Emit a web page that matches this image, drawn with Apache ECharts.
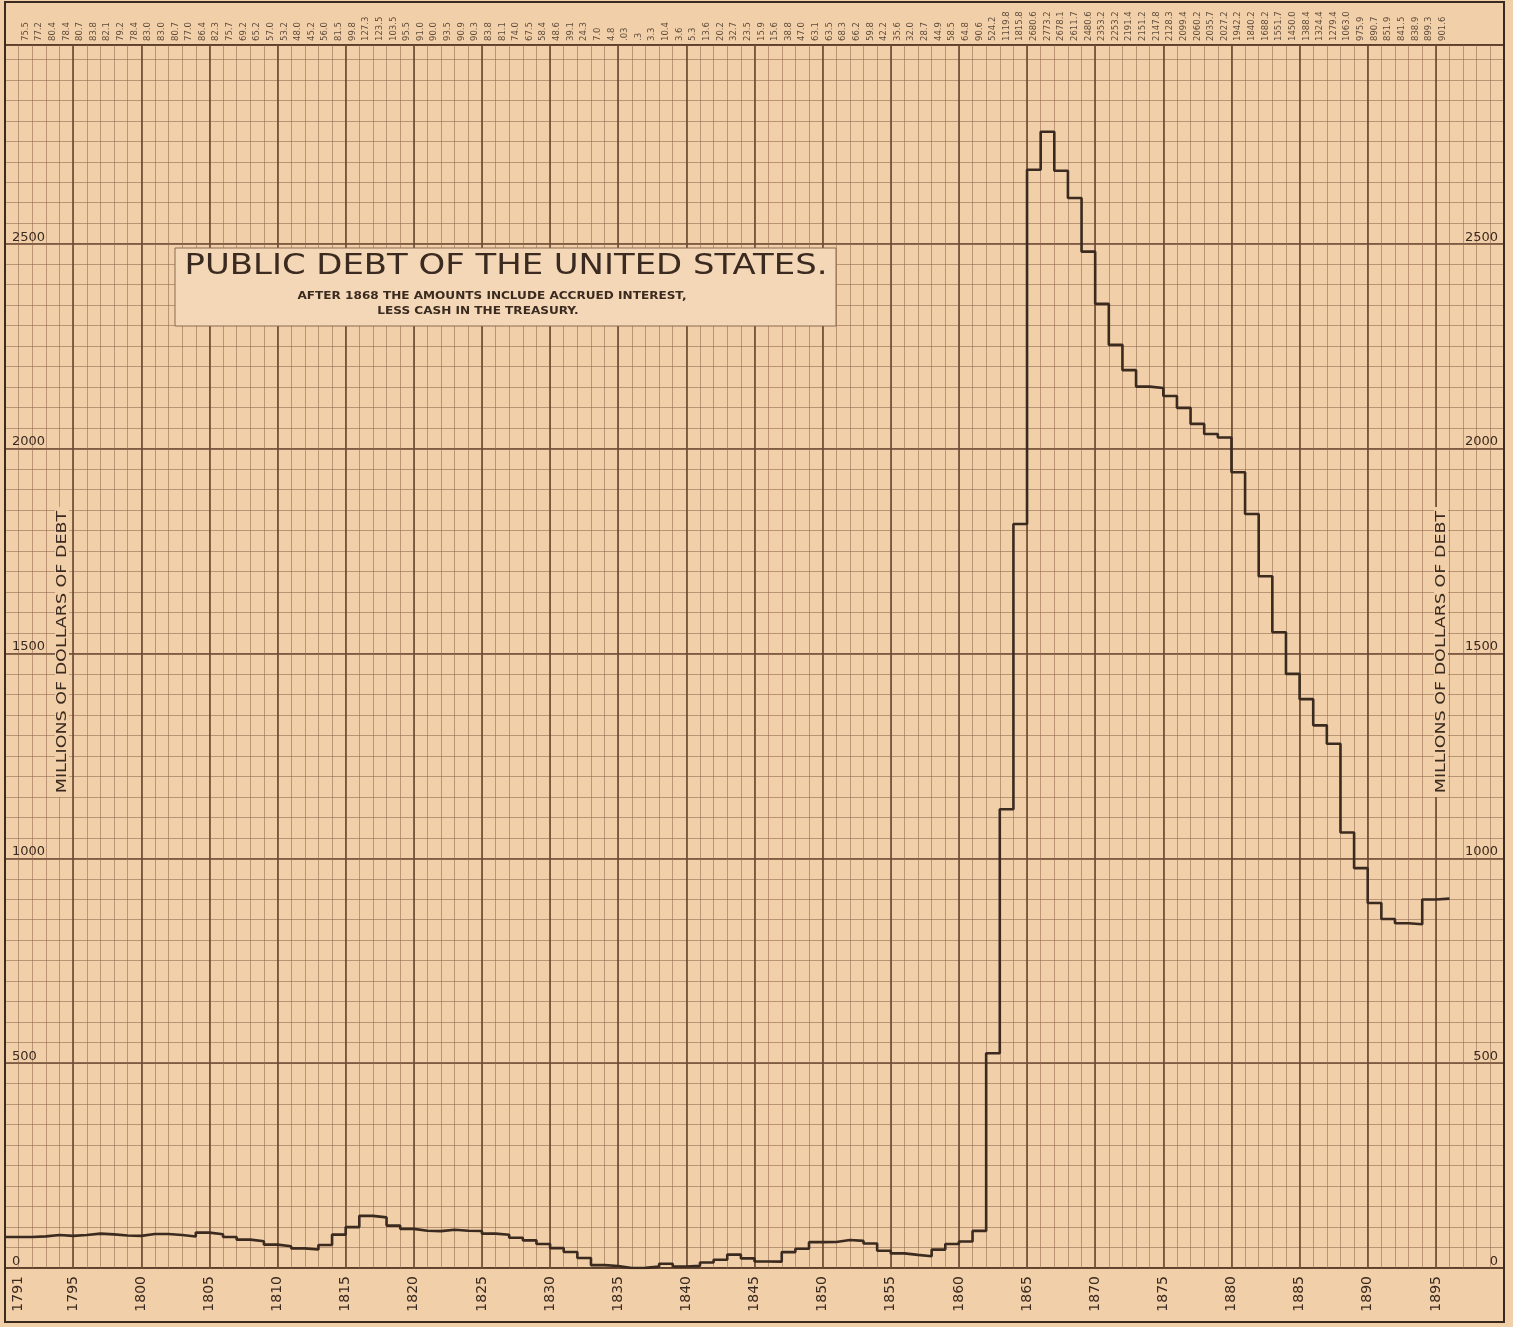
<!DOCTYPE html>
<html>
<head>
<meta charset="utf-8">
<title>Public Debt of the United States</title>
<script src="https://cdn.jsdelivr.net/npm/echarts@6/dist/echarts.min.js"></script>
<style>
  html, body { margin: 0; padding: 0; background: #f1cfa8; }
  #chart { width: 1513px; height: 1327px; }
</style>
</head>
<body>
<div id="chart"></div>
<script>
// Fiscal years shown on the chart
const years = [
  1791, 1792, 1793, 1794, 1795, 1796, 1797, 1798, 1799, 1800,
  1801, 1802, 1803, 1804, 1805, 1806, 1807, 1808, 1809, 1810,
  1811, 1812, 1813, 1814, 1815, 1816, 1817, 1818, 1819, 1820,
  1821, 1822, 1823, 1824, 1825, 1826, 1827, 1828, 1829, 1830,
  1831, 1832, 1833, 1834, 1835, 1836, 1837, 1838, 1839, 1840,
  1841, 1842, 1843, 1844, 1845, 1846, 1847, 1848, 1849, 1850,
  1851, 1852, 1853, 1854, 1855, 1856, 1857, 1858, 1859, 1860,
  1861, 1862, 1863, 1864, 1865, 1866, 1867, 1868, 1869, 1870,
  1871, 1872, 1873, 1874, 1875, 1876, 1877, 1878, 1879, 1880,
  1881, 1882, 1883, 1884, 1885, 1886, 1887, 1888, 1889, 1890,
  1891, 1892, 1893, 1894, 1895
];

// Public debt, millions of dollars (after 1868: with accrued interest, less cash in the Treasury)
const debt = [
  75.5, 77.2, 80.4, 78.4, 80.7, 83.8, 82.1, 79.2, 78.4, 83.0,
  83.0, 80.7, 77.0, 86.4, 82.3, 75.7, 69.2, 65.2, 57.0, 53.2,
  48.0, 45.2, 56.0, 81.5, 99.8, 127.3, 123.5, 103.5, 95.5, 91.0,
  90.0, 93.5, 90.9, 90.3, 83.8, 81.1, 74.0, 67.5, 58.4, 48.6,
  39.1, 24.3, 7.0, 4.8, 0.03, 0.3, 3.3, 10.4, 3.6, 5.3,
  13.6, 20.2, 32.7, 23.5, 15.9, 15.6, 38.8, 47.0, 63.1, 63.5,
  68.3, 66.2, 59.8, 42.2, 35.6, 32.0, 28.7, 44.9, 58.5, 64.8,
  90.6, 524.2, 1119.8, 1815.8, 2680.6, 2773.2, 2678.1, 2611.7, 2480.6, 2353.2,
  2253.2, 2191.4, 2151.2, 2147.8, 2128.3, 2099.4, 2060.2, 2035.7, 2027.2, 1942.2,
  1840.2, 1688.2, 1551.7, 1450.0, 1388.4, 1324.4, 1279.4, 1063.0, 975.9, 890.7,
  851.9, 841.5, 838.9, 899.3, 901.6
];

// Years printed along the bottom edge
const yearTicks = [
  1791, 1795, 1800, 1805, 1810, 1815, 1820, 1825, 1830, 1835, 1840,
  1845, 1850, 1855, 1860, 1865, 1870, 1875, 1880, 1885, 1890, 1895
];

// Scale labels on both sides
const scaleTicks = [0, 500, 1000, 1500, 2000, 2500];

const X_MIN = 1790, X_MAX = 1900, Y_MAX = 2985;

const PAPER = '#f1cfa8';
const INK = '#3a2a1f';
const MINOR = 'rgba(140,100,72,0.55)';
const MAJOR = '#6a4832';
const FONT = '"DejaVu Sans", "Liberation Sans", sans-serif';

// Step line: each year's amount runs across its own column
const stepData = [[X_MIN, debt[0]]]
  .concat(years.map((y, i) => [y, debt[i]]))
  .concat([[years[years.length - 1] + 1, debt[debt.length - 1]]]);

// Amounts printed in the strip above the grid, one per column
const tagData = years.map((y, i) => [y + 0.5, Y_MAX, debt[i]]);
const fmtAmount = v => (v < 1 ? String(v).replace(/^0/, '') : v.toFixed(1));

const chart = echarts.init(document.getElementById('chart'), null, { renderer: 'canvas' });

chart.setOption({
  backgroundColor: PAPER,
  animation: false,
  grid: {
    left: 5, top: 45, width: 1499, height: 1223,
    show: true, borderColor: INK, borderWidth: 2, backgroundColor: 'transparent'
  },
  xAxis: [
    {
      // yearly rulings and year labels
      type: 'value', min: X_MIN, max: X_MAX, interval: 1, position: 'bottom',
      axisLine: { show: false }, axisTick: { show: false },
      splitLine: { show: true, lineStyle: { color: MINOR, width: 1 } },
      axisLabel: {
        show: true, rotate: 90, margin: 8,
        fontFamily: FONT, fontSize: 14, color: INK,
        formatter: v => (yearTicks.indexOf(v) >= 0 ? String(v) : '')
      }
    },
    {
      // five-year rulings
      type: 'value', min: X_MIN, max: X_MAX, interval: 5, position: 'top',
      axisLine: { show: false }, axisTick: { show: false }, axisLabel: { show: false },
      splitLine: { show: true, lineStyle: { color: MAJOR, width: 1.6 } }
    }
  ],
  yAxis: [
    {
      // rulings every 50 millions
      type: 'value', min: 0, max: Y_MAX, interval: 50, position: 'left',
      axisLine: { show: false }, axisTick: { show: false }, axisLabel: { show: false },
      splitLine: { show: true, lineStyle: { color: MINOR, width: 1 } }
    },
    {
      // rulings every 500 millions, left labels
      type: 'value', min: 0, max: Y_MAX, interval: 500, position: 'left',
      axisLine: { show: false }, axisTick: { show: false },
      splitLine: { show: true, lineStyle: { color: MAJOR, width: 1.6 } },
      axisLabel: {
        inside: true, margin: 7, align: 'left', verticalAlign: 'bottom',
        showMaxLabel: false, fontFamily: FONT, fontSize: 13, color: INK,
        formatter: v => (scaleTicks.indexOf(v) >= 0 ? String(v) : '')
      }
    },
    {
      // right-hand labels
      type: 'value', min: 0, max: Y_MAX, interval: 500, position: 'right',
      axisLine: { show: false }, axisTick: { show: false }, splitLine: { show: false },
      axisLabel: {
        inside: true, margin: 6, align: 'right', verticalAlign: 'bottom',
        showMaxLabel: false, fontFamily: FONT, fontSize: 13, color: INK,
        formatter: v => (scaleTicks.indexOf(v) >= 0 ? String(v) : '')
      }
    }
  ],
  series: [
    {
      name: 'Public debt',
      type: 'line',
      step: 'end',
      xAxisIndex: 0, yAxisIndex: 1,
      data: stepData,
      symbol: 'none',
      lineStyle: { color: INK, width: 2.6 },
      z: 5
    },
    {
      name: 'Amounts',
      type: 'scatter',
      xAxisIndex: 0, yAxisIndex: 1,
      data: tagData,
      symbolSize: 0,
      silent: true,
      label: {
        show: true, position: 'top', distance: 4, rotate: 90,
        align: 'left', verticalAlign: 'middle',
        fontFamily: FONT, fontSize: 8.5, color: INK,
        formatter: p => fmtAmount(p.value[2])
      }
    }
  ],
  graphic: [
    {
      type: 'rect', z: 20,
      shape: { x: 5, y: 2, width: 1499, height: 1320 },
      style: { fill: 'none', stroke: INK, lineWidth: 2 }
    },
    {
      type: 'rect', z: 20,
      shape: { x: 175, y: 248, width: 661, height: 78 },
      style: { fill: '#f4d7b6', stroke: '#8c6a50', lineWidth: 1 }
    },
    {
      type: 'text', z: 21, x: 506, y: 267, scaleX: 1.21,
      style: {
        text: 'PUBLIC DEBT OF THE UNITED STATES.',
        font: '28px "DejaVu Sans", sans-serif', fill: INK,
        textAlign: 'center', textVerticalAlign: 'middle'
      }
    },
    {
      type: 'text', z: 21, x: 492, y: 296, scaleX: 1.15,
      style: {
        text: 'AFTER 1868 THE AMOUNTS INCLUDE ACCRUED INTEREST,',
        font: 'bold 10.5px "DejaVu Sans", sans-serif', fill: INK,
        textAlign: 'center', textVerticalAlign: 'middle'
      }
    },
    {
      type: 'text', z: 21, x: 478, y: 311, scaleX: 1.15,
      style: {
        text: 'LESS CASH IN THE TREASURY.',
        font: 'bold 10.5px "DejaVu Sans", sans-serif', fill: INK,
        textAlign: 'center', textVerticalAlign: 'middle'
      }
    },
    {
      type: 'text', z: 21, x: 62, y: 652, rotation: Math.PI / 2, scaleX: 1.25,
      style: {
        text: 'MILLIONS OF DOLLARS OF DEBT',
        font: '14px "DejaVu Sans", sans-serif', fill: INK,
        textAlign: 'center', textVerticalAlign: 'middle',
        backgroundColor: PAPER, padding: [0, 3]
      }
    },
    {
      type: 'text', z: 21, x: 1441, y: 652, rotation: Math.PI / 2, scaleX: 1.25,
      style: {
        text: 'MILLIONS OF DOLLARS OF DEBT',
        font: '14px "DejaVu Sans", sans-serif', fill: INK,
        textAlign: 'center', textVerticalAlign: 'middle',
        backgroundColor: PAPER, padding: [0, 3]
      }
    }
  ]
});
</script>
</body>
</html>
